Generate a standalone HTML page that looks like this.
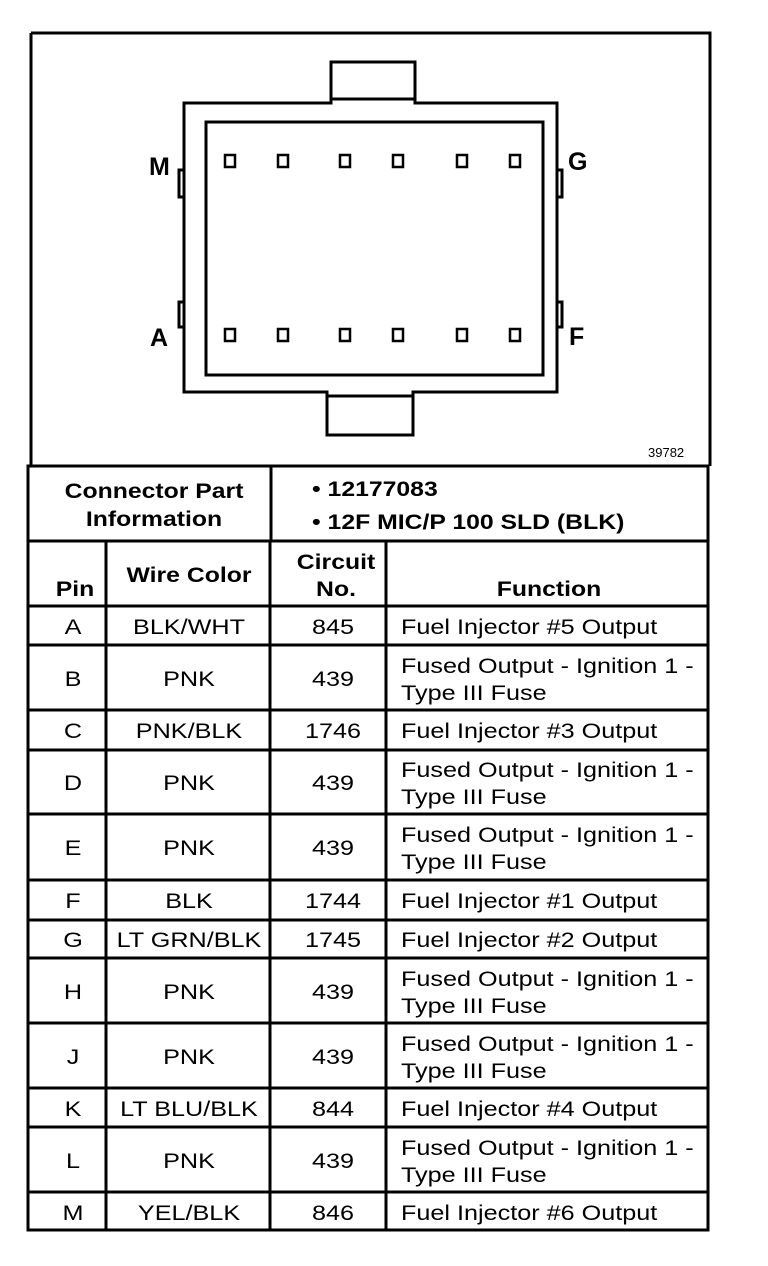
<!DOCTYPE html>
<html><head><meta charset="utf-8"><style>
html,body{margin:0;padding:0;background:#fff;}
svg{display:block;}
text{font-family:"Liberation Sans",sans-serif;fill:#000;}
.h{font-weight:bold;font-size:21px;}
.b{font-size:21px;}
</style></head><body>
<svg width="768" height="1266" viewBox="0 0 768 1266" xmlns="http://www.w3.org/2000/svg">
<g fill="none" stroke="#000" stroke-width="3">
<path d="M31 33 H710 V466 M31 33 V466"/>
<path d="M184 103 H331 V62 H415 V103 H557 V392 H413 V435 H327 V392 H184 Z"/>
<line x1="331" y1="99" x2="415" y2="99"/>
<line x1="327" y1="396" x2="413" y2="396"/>
<rect x="206" y="122" width="337" height="253"/>
<rect x="179" y="170" width="5" height="27"/>
<rect x="179" y="302" width="5" height="25"/>
<rect x="557" y="170" width="5" height="27"/>
<rect x="557" y="302" width="5" height="25"/>
</g>
<g fill="none" stroke="#000" stroke-width="2.5">
<rect x="225" y="155" width="10" height="12"/><rect x="278" y="155" width="10" height="12"/>
<rect x="340" y="155" width="10" height="12"/><rect x="393" y="155" width="10" height="12"/>
<rect x="457" y="155" width="10" height="12"/><rect x="510" y="155" width="10" height="12"/>
<rect x="225" y="329" width="10" height="12"/><rect x="278" y="329" width="10" height="12"/>
<rect x="340" y="329" width="10" height="12"/><rect x="393" y="329" width="10" height="12"/>
<rect x="457" y="329" width="10" height="12"/><rect x="510" y="329" width="10" height="12"/>
</g>
<text x="149" y="175" style="font-weight:bold;font-size:25px">M</text>
<text x="568" y="170" style="font-weight:bold;font-size:25px">G</text>
<text x="150" y="346" style="font-weight:bold;font-size:25px">A</text>
<text x="569" y="345" style="font-weight:bold;font-size:25px">F</text>
<text x="648" y="457" style="font-size:13px">39782</text>

<g fill="none" stroke="#000" stroke-width="3">
<rect x="28" y="466" width="680" height="764"/>
<line x1="271" y1="466" x2="271" y2="541"/>
<line x1="28" y1="541" x2="708" y2="541"/>
<line x1="28" y1="606" x2="708" y2="606"/>
<line x1="106" y1="541" x2="106" y2="1230"/>
<line x1="270" y1="541" x2="270" y2="1230"/>
<line x1="386" y1="541" x2="386" y2="1230"/>
<line x1="28" y1="645" x2="708" y2="645"/>
<line x1="28" y1="710" x2="708" y2="710"/>
<line x1="28" y1="750" x2="708" y2="750"/>
<line x1="28" y1="814" x2="708" y2="814"/>
<line x1="28" y1="880" x2="708" y2="880"/>
<line x1="28" y1="920" x2="708" y2="920"/>
<line x1="28" y1="958" x2="708" y2="958"/>
<line x1="28" y1="1023" x2="708" y2="1023"/>
<line x1="28" y1="1088" x2="708" y2="1088"/>
<line x1="28" y1="1127" x2="708" y2="1127"/>
<line x1="28" y1="1192" x2="708" y2="1192"/>
</g>
<g class="h" text-anchor="middle">
<text transform="translate(154,498) scale(1.18,1)">Connector Part</text>
<text transform="translate(154,526) scale(1.18,1)">Information</text>
<text transform="translate(75,596) scale(1.18,1)">Pin</text>
<text transform="translate(189,582) scale(1.18,1)">Wire Color</text>
<text transform="translate(336,569) scale(1.18,1)">Circuit</text>
<text transform="translate(336,596) scale(1.18,1)">No.</text>
<text transform="translate(549,596) scale(1.18,1)">Function</text>
</g>
<g class="h">
<text transform="translate(312,496) scale(1.18,1)">• 12177083</text>
<text transform="translate(312,529) scale(1.18,1)">• 12F MIC/P 100 SLD (BLK)</text>
</g>

<g class="b" text-anchor="middle">
<g transform="translate(73,0) scale(1.2,1)">
<text y="634">A</text><text y="686">B</text><text y="738">C</text><text y="790">D</text><text y="855">E</text><text y="908">F</text><text y="947">G</text><text y="999">H</text><text y="1064">J</text><text y="1116">K</text><text y="1168">L</text><text y="1220">M</text>
</g>
<g transform="translate(189,0) scale(1.2,1)">
<text y="634">BLK/WHT</text><text y="686">PNK</text><text y="738">PNK/BLK</text><text y="790">PNK</text><text y="855">PNK</text><text y="908">BLK</text><text y="947">LT GRN/BLK</text><text y="999">PNK</text><text y="1064">PNK</text><text y="1116">LT BLU/BLK</text><text y="1168">PNK</text><text y="1220">YEL/BLK</text>
</g>
<g transform="translate(333,0) scale(1.2,1)">
<text y="634">845</text><text y="686">439</text><text y="738">1746</text><text y="790">439</text><text y="855">439</text><text y="908">1744</text><text y="947">1745</text><text y="999">439</text><text y="1064">439</text><text y="1116">844</text><text y="1168">439</text><text y="1220">846</text>
</g>
</g>
<g class="b" transform="translate(401,0) scale(1.2,1)">
<text y="634">Fuel Injector #5 Output</text>
<text y="673">Fused Output - Ignition 1 -</text><text y="700">Type III Fuse</text>
<text y="738">Fuel Injector #3 Output</text>
<text y="777">Fused Output - Ignition 1 -</text><text y="804">Type III Fuse</text>
<text y="842">Fused Output - Ignition 1 -</text><text y="869">Type III Fuse</text>
<text y="908">Fuel Injector #1 Output</text>
<text y="947">Fuel Injector #2 Output</text>
<text y="986">Fused Output - Ignition 1 -</text><text y="1013">Type III Fuse</text>
<text y="1051">Fused Output - Ignition 1 -</text><text y="1078">Type III Fuse</text>
<text y="1116">Fuel Injector #4 Output</text>
<text y="1155">Fused Output - Ignition 1 -</text><text y="1182">Type III Fuse</text>
<text y="1220">Fuel Injector #6 Output</text>
</g>
</svg>
</body></html>
